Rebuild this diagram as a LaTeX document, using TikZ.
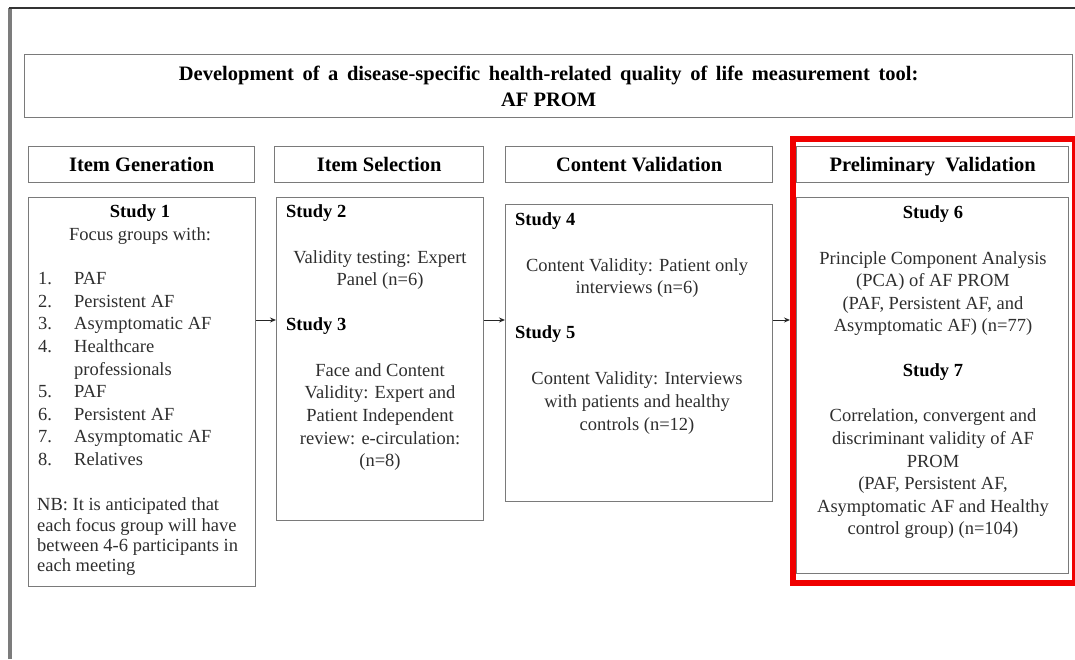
\documentclass[tikz,border=0pt]{standalone}
\usepackage{fontspec}
\setmainfont{Liberation Serif}
\usetikzlibrary{arrows.meta}
\definecolor{boxgray}{HTML}{7A7A7A}
\definecolor{framegray}{HTML}{7C7C7C}
\definecolor{bodycol}{HTML}{2E2E2E}
\definecolor{hlred}{HTML}{F00000}
\newcommand{\txtbody}{\fontsize{18.5}{22.6}\selectfont}
\newcommand{\txthead}{\fontsize{20.5}{26}\selectfont\bfseries}
\begin{document}
\begin{tikzpicture}[x=1pt,y=-1pt,
  box/.style={draw=boxgray, line width=1.3pt, inner sep=0pt, anchor=north west},
  headbox/.style={box, font=\txthead, text=black, text height=15pt, text depth=0.5pt},
  studylabel/.style={inner sep=0pt, font=\txtbody\bfseries, text=black},
  bodytext/.style={inner sep=0pt, font=\txtbody, text=bodycol, align=center},
  arr/.style={draw=black!85, line width=1pt, -{Stealth[length=6pt,width=5pt]}}
]
\useasboundingbox (0,0) rectangle (1075,659);

% page frame
\draw[framegray, line width=3.5pt] (10,659) -- (10,8);
\draw[black!80, line width=2pt] (9,8) -- (1075,8);

% title
\node[box, minimum width=1048pt, minimum height=63pt, font=\txthead, align=center]
  (title) at (24,54) {\spaceskip=0.42em plus 0.05em Development of a disease-specific health-related quality of life measurement tool:\\AF PROM};

% column headers
\node[headbox, minimum width=226pt, minimum height=36pt] (h1) at (28,146) {Item Generation};
\node[headbox, minimum width=209pt, minimum height=36pt] (h2) at (274,146) {Item Selection};
\node[headbox, minimum width=267pt, minimum height=36pt] (h3) at (505,146) {Content Validation};
\node[headbox, minimum width=272pt, minimum height=36pt] (h4) at (796,146) {Preliminary\ \ Validation};

% study boxes
\node[box, minimum width=227pt, minimum height=389pt] (s1) at (28,197) {};
\node[box, minimum width=207pt, minimum height=323pt] (s23) at (276,197) {};
\node[box, minimum width=267pt, minimum height=297pt] (s45) at (505,204) {};
\node[box, minimum width=272pt, minimum height=376pt] (s67) at (796,197) {};

% highlight around the last column
\node[draw=hlred, line width=6pt, inner sep=0pt, anchor=north west,
  minimum width=282pt, minimum height=444pt] (hl) at (790,136) {};

% Study 1
\node[studylabel] (t1) at (140,213) {Study 1};
\node[bodytext] (t1a) at (140,236) {Focus groups with:};
\node[inner sep=0pt, anchor=west, font=\txtbody, text=bodycol] (t1list) at (38,370.5) {%
  \begin{tabular}{@{}p{36pt}@{}l@{}}
  1. & PAF\\
  2. & Persistent AF\\
  3. & Asymptomatic AF\\
  4. & Healthcare\\
     & professionals\\
  5. & PAF\\
  6. & Persistent AF\\
  7. & Asymptomatic AF\\
  8. & Relatives
  \end{tabular}};
\node[inner sep=0pt, anchor=west, align=left, font=\fontsize{18.5}{20.3}\selectfont, text=bodycol]
  (t1nb) at (37,537) {NB: It is anticipated that\\each focus group will have\\between 4-6 participants in\\each meeting};

% Studies 2 and 3
\node[studylabel, anchor=west] (t2) at (286,213) {Study 2};
\node[bodytext] (t2a) at (380,270) {Validity testing: Expert\\Panel (n=6)};
\node[studylabel, anchor=west] (t3) at (286,326) {Study 3};
\node[bodytext] (t3a) at (380,417) {Face and Content\\Validity: Expert and\\Patient Independent\\review: e-circulation:\\(n=8)};

% Studies 4 and 5
\node[studylabel, anchor=west] (t4) at (515,221) {Study 4};
\node[bodytext] (t4a) at (637,278) {Content Validity: Patient only\\interviews (n=6)};
\node[studylabel, anchor=west] (t5) at (515,334) {Study 5};
\node[bodytext] (t5a) at (637,403) {Content Validity: Interviews\\with patients and healthy\\controls (n=12)};

% Studies 6 and 7
\node[studylabel] (t6) at (933,214) {Study 6};
\node[bodytext] (t6a) at (933,293.5) {Principle Component Analysis\\(PCA) of AF PROM\\(PAF, Persistent AF, and\\Asymptomatic AF) (n=77)};
\node[studylabel] (t7) at (933,372) {Study 7};
\node[bodytext] (t7a) at (933,474) {Correlation, convergent and\\discriminant validity of AF\\PROM\\(PAF, Persistent AF,\\Asymptomatic AF and Healthy\\control group) (n=104)};

% flow between the columns
\draw[arr] (s1.east |- 0,320) -- (s23.west |- 0,320);
\draw[arr] (s23.east |- 0,320) -- (s45.west |- 0,320);
\draw[arr] (s45.east |- 0,320) -- (hl.west |- 0,320);
\end{tikzpicture}
\end{document}
